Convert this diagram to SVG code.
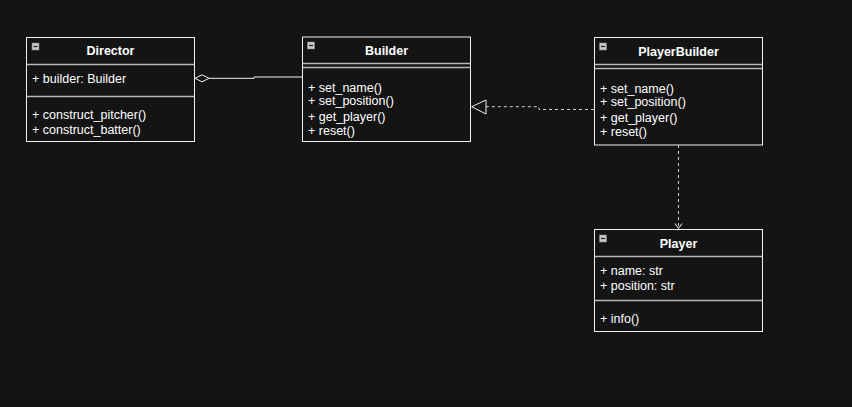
<svg xmlns="http://www.w3.org/2000/svg" width="852" height="407" viewBox="0 0 852 407">
<style>
.box{fill:#141414;stroke:#f0f0f0;stroke-width:1}
.sep{stroke:#b8b8b8;stroke-width:1.3;fill:none}
.t{font-family:"Liberation Sans",Arial,sans-serif;font-size:12.5px;fill:#ffffff}
.h{font-weight:bold;text-anchor:middle}
.ic{fill:#c8c8c8;stroke:#888;stroke-width:0.5}
.icm{stroke:#222;stroke-width:1.2}
.ln{fill:none;stroke:#f0f0f0;stroke-width:1}
.dl{fill:none;stroke:#d0d0d0;stroke-width:1;stroke-dasharray:3,3}
</style>
<rect x="0" y="0" width="852" height="407" fill="#141414"/>
<g id="connectors">
<path class="ln" d="M209,78.3 H254 V77 H302.5"/>
<path class="ln" d="M195,78.3 L202,74.8 L209,78.3 L202,81.8 Z" fill="#141414"/>
<path class="dl" d="M594,109.5 H539 V106.7 H486"/>
<path class="ln" d="M471.7,106.7 L486,100 L486,114 Z" fill="#141414" stroke="#d0d0d0"/>
<path class="dl" d="M678.5,145 V228"/>
<path class="ln" d="M675,223.5 L678.5,228.5 L682,223.5" stroke="#d0d0d0"/>
</g>
<g id="director">
<rect class="box" x="26.5" y="37.5" width="168" height="104"/>
<line class="sep" x1="27" y1="64.5" x2="194" y2="64.5"/>
<line class="sep" x1="27" y1="96.5" x2="194" y2="96.5"/>
<rect class="ic" x="32" y="43" width="7" height="7"/><line class="icm" x1="33.5" y1="46.5" x2="37.5" y2="46.5"/>
<text class="t h" x="110.5" y="55">Director</text>
<text class="t" x="32" y="83">+ builder: Builder</text>
<text class="t" x="32" y="119">+ construct_pitcher()</text>
<text class="t" x="32" y="133.5">+ construct_batter()</text>
</g>
<g id="builder">
<rect class="box" x="302.5" y="37" width="168" height="104.5"/>
<line class="sep" x1="303" y1="63.5" x2="470" y2="63.5"/>
<line class="sep" x1="303" y1="67.5" x2="470" y2="67.5"/>
<rect class="ic" x="307.5" y="42" width="7" height="7"/><line class="icm" x1="309" y1="45.5" x2="313" y2="45.5"/>
<text class="t h" x="386.5" y="54.5">Builder</text>
<text class="t" x="308" y="91.5">+ set_name()</text>
<text class="t" x="308" y="105">+ set_position()</text>
<text class="t" x="308" y="120.5">+ get_player()</text>
<text class="t" x="308" y="135">+ reset()</text>
</g>
<g id="playerbuilder">
<rect class="box" x="594.5" y="37.5" width="168" height="107.5"/>
<line class="sep" x1="595" y1="64.5" x2="762" y2="64.5"/>
<line class="sep" x1="595" y1="68.5" x2="762" y2="68.5"/>
<rect class="ic" x="599.5" y="43" width="7" height="7"/><line class="icm" x1="601" y1="46.5" x2="605" y2="46.5"/>
<text class="t h" x="678.5" y="55.5">PlayerBuilder</text>
<text class="t" x="600" y="92.5">+ set_name()</text>
<text class="t" x="600" y="106">+ set_position()</text>
<text class="t" x="600" y="121.5">+ get_player()</text>
<text class="t" x="600" y="136">+ reset()</text>
</g>
<g id="player">
<rect class="box" x="594.5" y="229.5" width="168" height="102"/>
<line class="sep" x1="595" y1="256.5" x2="762" y2="256.5"/>
<line class="sep" x1="595" y1="300.5" x2="762" y2="300.5"/>
<rect class="ic" x="599.5" y="235" width="7" height="7"/><line class="icm" x1="601" y1="238.5" x2="605" y2="238.5"/>
<text class="t h" x="678.5" y="248">Player</text>
<text class="t" x="600" y="275">+ name: str</text>
<text class="t" x="600" y="289.5">+ position: str</text>
<text class="t" x="600" y="322.5">+ info()</text>
</g>
</svg>
